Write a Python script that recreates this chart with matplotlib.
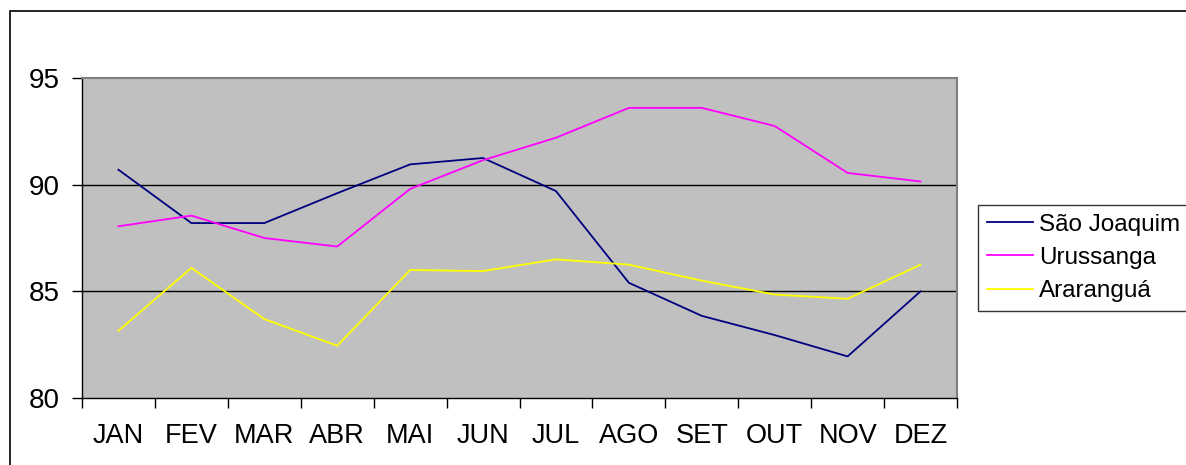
import matplotlib
matplotlib.use('Agg')
import matplotlib.pyplot as plt
from matplotlib.patches import Rectangle

plt.rcParams['font.family'] = ['Liberation Sans', 'DejaVu Sans']

# --- Dados ---
meses = ['JAN', 'FEV', 'MAR', 'ABR', 'MAI', 'JUN', 'JUL', 'AGO', 'SET', 'OUT', 'NOV', 'DEZ']
sao_joaquim = [90.7, 88.2, 88.2, 89.6, 90.95, 91.25, 89.7, 85.4, 83.85, 82.95, 81.95, 85.0]
urussanga = [88.05, 88.55, 87.5, 87.1, 89.8, 91.15, 92.2, 93.6, 93.6, 92.75, 90.55, 90.15]
ararangua = [83.15, 86.1, 83.7, 82.45, 86.0, 85.95, 86.5, 86.25, 85.5, 84.85, 84.65, 86.25]

series = [('São Joaquim', sao_joaquim, '#000080'),
          ('Urussanga', urussanga, '#FF00FF'),
          ('Araranguá', ararangua, '#FFFF00')]

fig = plt.figure(figsize=(11.86, 4.65), dpi=100)
# borda externa do gráfico (cortada à direita e embaixo)
fig.patches.append(Rectangle((10 / 1186, -0.1), 1.2, 1 - 11 / 465 + 0.1,
                             transform=fig.transFigure, fill=False,
                             edgecolor='black', linewidth=1.2))

ax = fig.add_axes([82 / 1186, 67 / 465, 875 / 1186, 320 / 465])
ax.set_facecolor('#C0C0C0')

x = list(range(len(meses)))
for nome, valores, cor in series:
    ax.plot(x, valores, color=cor, linewidth=1.3, label=nome)

ax.set_xlim(-0.5, len(meses) - 0.5)
ax.set_ylim(80, 95)
ax.set_yticks([80, 85, 90, 95])
for y in [85, 90]:
    ax.axhline(y, color='black', linewidth=1, zorder=1)

# ticks do eixo x entre categorias
ax.set_xticks([i - 0.5 for i in range(len(meses) + 1)])
ax.set_xticklabels([])
ax.set_xticks(x, minor=True)
ax.set_xticklabels(meses, minor=True, fontsize=19.5)
ax.tick_params(axis='x', which='minor', length=0, pad=18)
ax.tick_params(axis='x', which='major', length=7, width=1, direction='out')
ax.tick_params(axis='y', length=7, width=1, direction='out', labelsize=20, pad=9)

for lado in ['top', 'right']:
    ax.spines[lado].set_color('#808080')
    ax.spines[lado].set_linewidth(1.5)
for lado in ['left', 'bottom']:
    ax.spines[lado].set_color('black')
    ax.spines[lado].set_linewidth(1)

leg = ax.legend(loc='center left', bbox_to_anchor=(978 / 1186, (465 - 258) / 465),
                bbox_transform=fig.transFigure, fontsize=17.5, frameon=True,
                fancybox=False, borderpad=0.37, handlelength=1.9,
                handletextpad=0.25, labelspacing=0.47, borderaxespad=0)
leg.get_frame().set_edgecolor('black')
leg.get_frame().set_linewidth(1)

fig.savefig('out.png', dpi=100)
